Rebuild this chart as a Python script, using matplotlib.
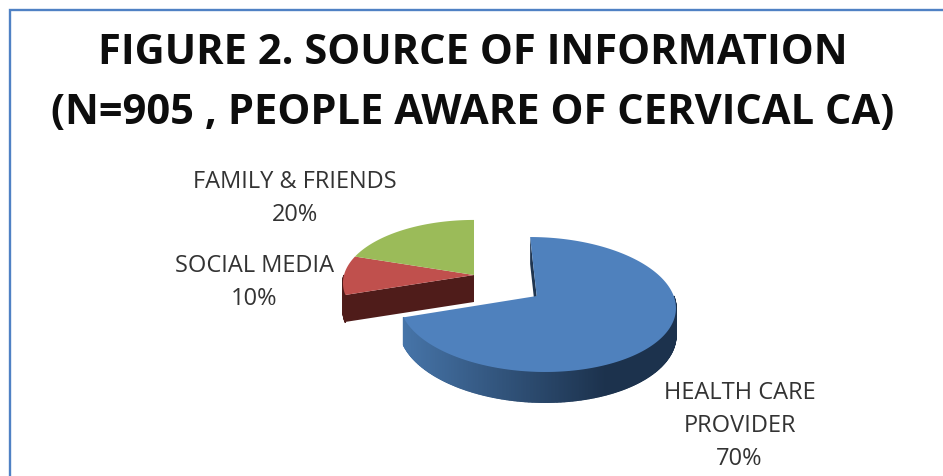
import numpy as np
import matplotlib
matplotlib.use("Agg")
import matplotlib.pyplot as plt
from matplotlib.colors import to_rgb

W, H = 943, 477

# Shares in clockwise order, starting from 12 o'clock
sources = ["HEALTH CARE\nPROVIDER", "SOCIAL MEDIA", "FAMILY & FRIENDS"]
shares = [70, 10, 20]
top_colors = ["#4f81bd", "#c0504d", "#9bbb59"]

title_lines = ["FIGURE 2. SOURCE OF INFORMATION",
               "(N=905 , PEOPLE AWARE OF CERVICAL CA)"]

PERSP = 0.126  # foreshortening of the pie plane


def project(apex, a, b, deg, shear=0.0, drop=0.0):
    # clockwise degrees from the top of the pie -> pixel position
    t = np.radians(deg)
    x, y = np.sin(t), np.cos(t)
    s = 1 / (1 + PERSP * y)
    return apex[0] + a * (x + shear * y) * s, apex[1] - b * y * s + drop * s


def draw_wall(ax, apex, a, b, depth, start, stop, dark, light, shear=0.0):
    # outer rim, split in thin strips for the horizontal shading
    degs = np.arange(start, stop + 0.5, 0.5)
    xs, ys = project(apex, a, b, degs, shear)
    xb, yb = project(apex, a, b, degs, shear, depth)
    c0, c1 = np.array(to_rgb(light)), np.array(to_rgb(dark))
    for i in range(len(degs) - 1):
        f = (xs[i] - xs.min()) / (xs.max() - xs.min())
        col = c0 + (c1 - c0) * min(1.0, f * 1.35)
        ax.fill([xs[i], xs[i + 1], xb[i + 1], xb[i]],
                [ys[i], ys[i + 1], yb[i + 1], yb[i]],
                color=col, lw=1.0, zorder=2)


def draw_top(ax, apex, a, b, start, stop, color, shear=0.0, z=4):
    degs = np.arange(start, stop + 0.5, 0.5)
    xs, ys = project(apex, a, b, degs, shear)
    ax.fill(np.r_[apex[0], xs], np.r_[apex[1], ys], color=color, lw=0, zorder=z)


def draw_cut(ax, apex, a, b, depth, deg, color, shear=0.0):
    x, y = project(apex, a, b, deg, shear)
    ax.fill([apex[0], x, x, apex[0]], [apex[1], y, y + depth, apex[1] + depth],
            color=color, lw=0, zorder=3)


fig = plt.figure(figsize=(W / 100, H / 100), dpi=100, facecolor="white")
ax = fig.add_axes([0, 0, 1, 1])
ax.set_xlim(0, W)
ax.set_ylim(H, 0)
ax.axis("off")

# chart frame, cut off by the right and bottom of the image
ax.plot([10, 10, W], [H, 11, 11], color="#4f81c4", lw=1.7, zorder=1,
        solid_joinstyle="miter")

edges = np.r_[0, np.cumsum(shares)] * 3.6

# main slice
big_apex = (536.7, 297)
big_shear = -0.054
draw_cut(ax, big_apex, 137, 66.4, 27, edges[0], "#1f3550", big_shear)
draw_wall(ax, big_apex, 137, 66.4, 26.5, 90, edges[1], "#1c324d", "#4674a8", big_shear)
draw_top(ax, big_apex, 137, 66.4, edges[0], edges[1], top_colors[0], big_shear)

# pulled-out group
small_apex = (474, 276)
draw_wall(ax, small_apex, 130, 62, 26.5, edges[1], 270, "#4f1c1a", "#4f1c1a")
draw_cut(ax, small_apex, 130, 62, 27, edges[1], "#4f1c1a")
draw_top(ax, small_apex, 130, 62, edges[1], edges[2], top_colors[1])
draw_top(ax, small_apex, 130, 62, edges[2], edges[3], top_colors[2])

for line, y in zip(title_lines, [54, 113]):
    ax.text(473, y, line, ha="center", va="center", fontsize=30,
            fontweight="bold", family="Open Sans", color="#0d0d0d")

label_pos = [(739.5, 426), (254.5, 282.5), (295, 198.5)]
for name, share, (x, y) in zip(sources, shares, label_pos):
    ax.text(x, y, f"{name}\n{share}%", ha="center", va="center", fontsize=17,
            family="Open Sans", color="#333333", linespacing=1.5)

fig.savefig("out.png", dpi=100)
